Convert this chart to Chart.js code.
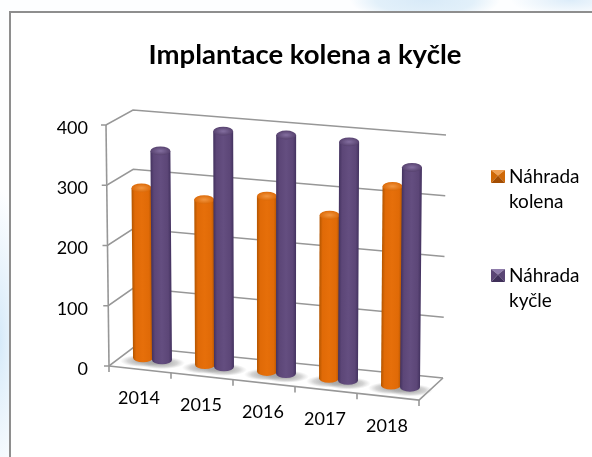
<!DOCTYPE html>
<html><head><meta charset="utf-8">
<script src="https://cdn.jsdelivr.net/npm/chart.js@4"></script>
<style>
html,body{margin:0;padding:0;width:592px;height:457px;overflow:hidden;background:#fff}
#bg{position:absolute;left:0;top:0;width:592px;height:457px;
background:
 radial-gradient(ellipse 75px 22px at 425px 0px,#d8eaf8 0%,#e2f0fa 65%,rgba(255,255,255,0) 100%),
 radial-gradient(ellipse 60px 16px at 570px 0px,#dcecf9 0%,rgba(255,255,255,0) 100%),
 radial-gradient(ellipse 24px 150px at 0px 340px,#d6eaf9 0%,rgba(255,255,255,0) 100%),
 #fdfeff}
#panel{position:absolute;left:9px;top:11px;width:590px;height:460px;background:#fff;border:2px solid #8e8e8e;box-sizing:border-box}
canvas{position:absolute;left:0;top:0;filter:blur(0.35px)}
</style></head>
<body><div id="bg"></div><div id="panel"></div>
<canvas id="c" width="592" height="457"></canvas>
<script>
const categories = ['2014','2015','2016','2017','2018'];
const kneeValues = [282,274,291,271,330];
const hipValues  = [347,391,396,396,365];
const yTicks = [0,100,200,300,400];
const kneeName = 'Náhrada kolena';
const hipName  = 'Náhrada kyčle';
const FONT = 'Lato, Carlito, sans-serif';
const palette = {
  knee:{edge:'#b35500',mid:'#e06a07',lite:'#e66f0a',cap:'#f0913a',capEdge:'#dc6a08',bevel:['#f0a052','#cf6806','#a34d02','#cf6806']},
  hip:{edge:'#43325f',mid:'#5c4677',lite:'#644e80',cap:'#7f6a9b',capEdge:'#57426f',bevel:['#8f7cab','#5a4574','#3f2f59','#5a4574']}
};
const GRID='#979797';
const LIFT=3; // the tick labels sit a little below their scale position in the reference

function floorSkew(a,x){return (x-a.left)*0.11;}
const DEPTH_X=12.5, DEPTH_Y=-10.5-LIFT;

const scene3d={
  id:'scene3d',
  afterLayout(chart){ chart.titleBlock.left=18; chart.titleBlock.right=592; },
  beforeDatasetsDraw(chart){
    const c=chart.ctx,a=chart.chartArea,ys=chart.scales.y,xs=chart.scales.x;
    const py=v=>ys.getPixelForValue(v)-LIFT;
    const fr=v=>({x:a.left-3*v/400,y:py(v)});
    const bl=v=>({x:a.left+25-v/400,y:py(v)-19+4*v/400});
    const br=v=>({x:a.left+334+3*v/400,y:py(v)+12-2*v/400});
    c.save();
    c.strokeStyle=GRID;c.lineWidth=1.6;c.lineJoin='miter';
    yTicks.forEach(v=>{
      const f=fr(v),b=bl(v),r=br(v);
      c.beginPath();c.moveTo(f.x-5,f.y);c.lineTo(f.x,f.y);c.lineTo(b.x,b.y);c.lineTo(r.x,r.y);c.stroke();
    });
    c.beginPath();c.moveTo(fr(0).x,fr(0).y);c.lineTo(fr(400).x,fr(400).y);c.stroke();
    const fl=fr(0),b0=br(0);
    const frontR={x:a.right,y:a.bottom-LIFT+floorSkew(a,a.right)};
    c.beginPath();c.moveTo(fl.x,fl.y);c.lineTo(frontR.x,frontR.y);c.lineTo(b0.x,b0.y);c.stroke();
    const w=(a.right-a.left)/categories.length;
    for(let i=0;i<=categories.length;i++){
      const x=a.left+i*w,y=a.bottom-LIFT+floorSkew(a,x);
      c.beginPath();c.moveTo(x,y);c.lineTo(x,y+6);c.stroke();
    }
    // floor shadows
    chart.getSortedVisibleDatasetMetas().forEach(m=>m.data.forEach(el=>{
      const cx=el.x+DEPTH_X,by=el.base+floorSkew(a,el.x)+DEPTH_Y+3;
      c.save();c.translate(cx,by);c.scale(1,0.27);
      const g=c.createRadialGradient(0,0,6,0,0,23);
      g.addColorStop(0,'rgba(130,130,130,0.6)');g.addColorStop(.55,'rgba(150,150,150,0.4)');g.addColorStop(1,'rgba(180,180,180,0)');
      c.fillStyle=g;c.beginPath();c.arc(0,0,23,0,Math.PI*2);c.fill();c.restore();
    }));
    // year labels
    c.fillStyle='#000';c.font='18px '+FONT;c.textAlign='center';c.textBaseline='middle';
    categories.forEach((t,i)=>{
      const x=xs.getPixelForTick(i);
      c.fillText(xs.getLabelForValue(i),x-1,a.bottom-LIFT+floorSkew(a,x)+29);
    });
    // legend
    const tops=[170,269];
    chart.data.datasets.forEach((d,i)=>{
      const p=palette[d.key],X=491,Y=tops[i],W=14,H=13;
      const cX=X+W/2,cY=Y+H/2-1;
      const polys=[[[X,Y],[X+W,Y],[cX,cY]],[[X+W,Y],[X+W,Y+H],[cX,cY]],[[X+W,Y+H],[X,Y+H],[cX,cY]],[[X,Y+H],[X,Y],[cX,cY]]];
      polys.forEach((q,k)=>{c.fillStyle=p.bevel[k];c.beginPath();q.forEach((pt,n)=>n?c.lineTo(pt[0],pt[1]):c.moveTo(pt[0],pt[1]));c.closePath();c.fill();});
      c.fillStyle='#000';c.font='19px '+FONT;c.textAlign='left';c.textBaseline='middle';
      d.label.split(' ').forEach((s,n)=>{ c.fillText(s,509,Y+7+n*25); });
    });
    // cylinders: knee first, hip over it
    [0,1].forEach(idx=>{
      const m=chart.getDatasetMeta(idx),p=palette[chart.data.datasets[idx].key];
      m.data.forEach(el=>{
        const cx=el.x+DEPTH_X,off=floorSkew(a,el.x)+DEPTH_Y;
        const by=el.base+off,ty=el.y+off,rx=el.width/2,ry=4.4;
        const tilt=(cx-(a.left+a.right)/2-12)/125*2*(by-ty)/240;
        c.save();
        c.transform(1,0,-tilt/(by-ty),1,tilt*by/(by-ty),0);
        const g=c.createLinearGradient(cx-rx,0,cx+rx,0);
        g.addColorStop(0,p.edge);g.addColorStop(.16,p.mid);g.addColorStop(.5,p.lite);g.addColorStop(.84,p.mid);g.addColorStop(1,p.edge);
        c.fillStyle=g;
        c.beginPath();c.moveTo(cx-rx,ty);c.lineTo(cx-rx,by);c.ellipse(cx,by,rx,ry,0,Math.PI,0,true);c.lineTo(cx+rx,ty);c.closePath();c.fill();
        const t=c.createRadialGradient(cx,ty,1,cx,ty,rx);
        t.addColorStop(0,p.cap);t.addColorStop(1,p.capEdge);
        c.save();c.translate(cx,ty);c.scale(1,ry/rx);c.translate(-cx,-ty);
        c.fillStyle=t;c.beginPath();c.arc(cx,ty,rx,0,Math.PI*2);c.fill();c.restore();
        c.restore();
      });
    });
    c.restore();
  },
  beforeDatasetDraw(){ return false; }
};

new Chart(document.getElementById('c'),{
  type:'bar',
  data:{labels:categories,datasets:[
    {label:kneeName,key:'knee',data:kneeValues,backgroundColor:palette.knee.mid},
    {label:hipName,key:'hip',data:hipValues,backgroundColor:palette.hip.mid}
  ]},
  options:{
    responsive:false,animation:false,devicePixelRatio:1,
    layout:{autoPadding:false,padding:{left:12,right:173,top:39,bottom:88}},
    categoryPercentage:.613,barPercentage:1.05,
    plugins:{
      legend:{display:false},tooltip:{enabled:false},
      title:{display:true,text:'Implantace kolena a kyčle',color:'#000',
        font:{family:FONT,size:27.5,weight:'bold',lineHeight:1.2},padding:{top:0,bottom:56}}
    },
    scales:{
      x:{display:false,offset:true},
      y:{min:0,max:400,afterFit(s){s.width=97;},
        afterBuildTicks(s){s.ticks=yTicks.map(v=>({value:v}));},
        grid:{display:false},border:{display:false},
        ticks:{color:'#000',padding:13,font:{family:FONT,size:18}}}
    }
  },
  plugins:[scene3d]
});
</script></body></html>
